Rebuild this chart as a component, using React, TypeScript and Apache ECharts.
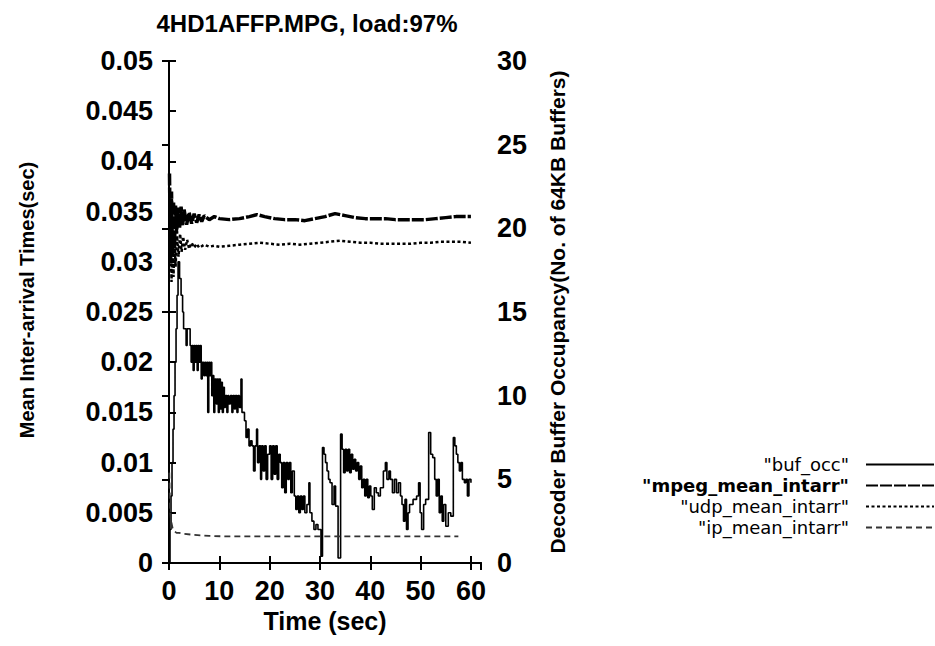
import React, { useEffect, useRef } from "react";
import * as echarts from "echarts";

const TITLE = "4HD1AFFP.MPG, load:97%";
const X_NAME = "Time (sec)";
const Y_LEFT_NAME = "Mean Inter-arrival Times(sec)";
const Y_RIGHT_NAME = "Decoder Buffer Occupancy(No. of 64KB Buffers)";
const SERIES_NAMES = ['"buf_occ"', '"mpeg_mean_intarr"', '"udp_mean_intarr"', '"ip_mean_intarr"'];

// [time (sec), buffers]
const bufOcc: number[][] = [
  [0, 0], [0.2, 2], [0.4, 4], [0.6, 6], [0.8, 8], [1.0, 10], [1.2, 12], [1.4, 14], [1.6, 16], [1.8, 18],
  [2.1, 17], [2.4, 16], [2.7, 15], [2.9, 14], [3.4, 13], [3.6, 14], [4.2, 13], [4.4, 12], [4.6, 13], [4.8, 11.5],
  [5.0, 13], [5.2, 12], [5.4, 13], [5.6, 11.5], [5.8, 13], [6.0, 12], [6.2, 13], [6.4, 11], [6.6, 12], [6.9, 11.2],
  [7.1, 12], [7.3, 11.2], [7.5, 12], [7.7, 9], [7.9, 12], [8.1, 11.2], [8.3, 12], [8.5, 10], [8.7, 11.2], [8.9, 9],
  [9.1, 11], [9.4, 9.5], [9.6, 11], [9.8, 9], [10.0, 11], [10.2, 9.2], [10.4, 10.8], [10.6, 9], [10.8, 10.5], [11.0, 9.3],
  [11.2, 10], [11.5, 9], [11.7, 10], [11.9, 9.5], [12.2, 10], [12.5, 9], [12.7, 10], [13.0, 9.2], [13.2, 10], [13.5, 9],
  [13.7, 10], [14.0, 9.3], [14.3, 11], [14.5, 9], [15.0, 8.5], [15.3, 7.5], [15.6, 8], [15.9, 7], [16.2, 7.3], [16.5, 7],
  [16.8, 5.5], [17.1, 7], [17.4, 8], [17.6, 6], [17.9, 7], [18.2, 5], [18.4, 7], [18.7, 5.5], [19.0, 7], [19.3, 5],
  [19.6, 6.5], [20.0, 7], [20.3, 5], [20.6, 7], [20.9, 5.3], [21.2, 7], [21.5, 5], [21.8, 6.5], [22.1, 6], [22.4, 4.5],
  [22.7, 6], [23.0, 4.2], [23.3, 6], [23.6, 5], [23.9, 6], [24.2, 4.2], [24.5, 5.5], [24.9, 4], [25.2, 3.2], [25.5, 4],
  [25.8, 3], [26.1, 4], [26.4, 3.2], [26.7, 4], [27.0, 3], [27.4, 3.5], [27.8, 4.8], [28.0, 3], [28.4, 2.5], [28.8, 2],
  [29.2, 2.3], [29.6, 2], [30.2, 0.4], [30.5, 6.9], [30.8, 6.5], [31.1, 6], [31.4, 5.5], [31.7, 5], [32.0, 4.8], [32.4, 3.5],
  [32.8, 4.6], [33.1, 3.4], [33.6, 0.3], [34.1, 7.7], [34.4, 6.8], [34.7, 5.4], [35.0, 6.8], [35.3, 5.5], [35.6, 6.8], [35.9, 5.4],
  [36.2, 6.5], [36.5, 5.6], [36.8, 6.2], [37.1, 5.5], [37.4, 6], [37.7, 5], [38.0, 5.8], [38.3, 4.5], [38.6, 5], [38.9, 4],
  [39.2, 5], [39.5, 3.9], [39.8, 4.6], [40.1, 4], [40.4, 3.2], [40.8, 4.5], [41.2, 4.2], [41.6, 4], [42.0, 4.5], [42.6, 5.5],
  [43.0, 6], [43.3, 5], [43.7, 5.5], [44.0, 5], [44.4, 4.2], [44.8, 5], [45.2, 4.2], [45.6, 4.8], [46.0, 4], [46.3, 3.5],
  [46.6, 2.5], [46.9, 3.8], [47.2, 2], [47.5, 3], [47.8, 3.5], [48.5, 3.8], [49.2, 4], [49.6, 4.8], [49.9, 3], [50.2, 2],
  [50.6, 3.5], [51.0, 3.8], [51.6, 7.8], [52.0, 6.5], [52.4, 6.3], [52.8, 5], [53.1, 4], [53.4, 5], [53.7, 3], [54.0, 4],
  [54.3, 2.5], [54.6, 3.5], [55.0, 2.2], [55.5, 3], [56.0, 2.8], [56.5, 7.5], [56.8, 7], [57.1, 6.5], [57.4, 6], [57.7, 5.5],
  [58.0, 6], [58.3, 5], [58.7, 4.8], [59.0, 5], [59.3, 4], [59.6, 5], [60.0, 4.8],
];

// [time (sec), seconds]
const mpegIntarr: number[][] = [
  [0.1, 0.0388], [0.3, 0.030], [0.5, 0.037], [0.7, 0.0305], [0.9, 0.036], [1.1, 0.0318], [1.3, 0.0356], [1.5, 0.0328],
  [1.8, 0.0354], [2.1, 0.0334], [2.4, 0.0355], [2.7, 0.0336], [3.0, 0.0352], [3.5, 0.0337], [4.0, 0.0349], [4.5, 0.0338],
  [5.0, 0.0348], [5.5, 0.0339], [6.0, 0.0347], [6.5, 0.034], [7.0, 0.0346], [8.0, 0.0342], [9.0, 0.0345], [10, 0.0343],
  [12, 0.0342], [14, 0.0343], [16, 0.0345], [17.5, 0.0347], [19, 0.0345], [21, 0.0343], [23, 0.0342], [25, 0.0342],
  [27, 0.0341], [29, 0.0343], [31, 0.0345], [33, 0.0348], [35, 0.0346], [37, 0.0344], [39, 0.0343], [41, 0.0343],
  [43, 0.0343], [45, 0.0342], [47, 0.0342], [49, 0.0342], [51, 0.0342], [53, 0.0343], [55, 0.0344], [57, 0.0345],
  [59, 0.0345], [60, 0.0345],
];

const udpIntarr: number[][] = [
  [0.1, 0.029], [0.3, 0.036], [0.5, 0.028], [0.7, 0.034], [0.9, 0.0285], [1.1, 0.033], [1.3, 0.0295], [1.6, 0.0326],
  [1.9, 0.0305], [2.2, 0.0328], [2.5, 0.031], [2.8, 0.0325], [3.2, 0.0312], [3.6, 0.0322], [4.0, 0.0313], [4.5, 0.0319],
  [5.0, 0.0314], [5.5, 0.0318], [6, 0.0314], [7, 0.0317], [8, 0.0315], [9, 0.0316], [10, 0.0315], [12, 0.0316],
  [14, 0.0317], [16, 0.0318], [18, 0.0319], [20, 0.0318], [22, 0.0317], [24, 0.0318], [26, 0.0317], [28, 0.0318],
  [30, 0.0319], [32, 0.032], [34, 0.0321], [36, 0.032], [38, 0.0319], [40, 0.0319], [42, 0.0318], [44, 0.0318],
  [46, 0.0318], [48, 0.0318], [50, 0.0319], [52, 0.0319], [54, 0.032], [56, 0.032], [58, 0.032], [60, 0.0319],
];

const ipIntarr: number[][] = [
  [0.05, 0.009], [0.2, 0.0055], [0.4, 0.0042], [0.7, 0.0035], [1.0, 0.0032], [1.5, 0.0030], [2, 0.0030], [3, 0.0029],
  [5, 0.0028], [8, 0.0027], [11, 0.00265], [15, 0.00265], [20, 0.00265], [25, 0.00265], [30, 0.00265], [35, 0.00265],
  [40, 0.00265], [45, 0.00265], [50, 0.00265], [55, 0.00265], [57.5, 0.00265],
];

const FONT = "'Liberation Sans', Arial, Helvetica, sans-serif";

export default function App() {
  const ref = useRef<HTMLDivElement>(null);
  useEffect(() => {
    if (!ref.current) return;
    const chart = echarts.init(ref.current, null, { renderer: "svg" });
    const axisLine = { show: true, lineStyle: { color: "#000", width: 2 } };
    const axisTick = { show: true, inside: true, length: 7, lineStyle: { color: "#000", width: 2 } };
    const tickLabel = { color: "#000", fontFamily: FONT, fontWeight: "bold" as const, fontSize: 27 };
    chart.setOption({
      animation: false,
      backgroundColor: "#fff",
      title: {
        text: TITLE,
        left: 302,
        top: 6,
        textAlign: "center",
        textStyle: { color: "#000", fontFamily: FONT, fontWeight: "bold", fontSize: 24 },
      },
      grid: { left: 169, right: 454, top: 61, bottom: 83, containLabel: false },
      legend: {
        orient: "vertical",
        right: 0,
        top: 454,
        padding: 0,
        align: "right",
        itemWidth: 68,
        itemHeight: 14,
        itemGap: 0,
        itemStyle: { opacity: 0, borderWidth: 0 },
        textStyle: { color: "#000", fontFamily: "'DejaVu Sans', sans-serif", fontSize: 18, lineHeight: 21, padding: [0, 12, 0, 0] },
        data: [
          { name: SERIES_NAMES[0] },
          { name: SERIES_NAMES[1], textStyle: { fontWeight: "bold" } },
          { name: SERIES_NAMES[2] },
          { name: SERIES_NAMES[3] },
        ],
      },
      xAxis: [
        {
          type: "value",
          min: 0,
          max: 62,
          interval: 10,
          position: "bottom",
          name: X_NAME,
          nameLocation: "middle",
          nameGap: 44,
          nameTextStyle: { color: "#000", fontFamily: FONT, fontWeight: "bold", fontSize: 25 },
          axisLine,
          axisTick,
          splitLine: { show: false },
          axisLabel: { ...tickLabel, margin: 14, showMaxLabel: false },
        },
        {
          type: "value",
          min: 0,
          max: 62,
          interval: 10,
          position: "top",
          axisLine,
          axisTick,
          splitLine: { show: false },
          axisLabel: { show: false },
        },
      ],
      yAxis: [
        {
          type: "value",
          min: 0,
          max: 0.05,
          interval: 0.005,
          position: "left",
          name: Y_LEFT_NAME,
          nameLocation: "middle",
          nameRotate: 90,
          nameGap: 132,
          nameTextStyle: { color: "#000", fontFamily: FONT, fontWeight: "bold", fontSize: 20, padding: [0, 0, 0, 24] },
          axisLine,
          axisTick,
          splitLine: { show: false },
          axisLabel: { ...tickLabel, margin: 16, formatter: (v: number) => String(+v.toFixed(3)) },
        },
        {
          type: "value",
          min: 0,
          max: 30,
          interval: 5,
          position: "right",
          name: Y_RIGHT_NAME,
          nameLocation: "middle",
          nameRotate: 90,
          nameGap: 66,
          nameTextStyle: { color: "#000", fontFamily: FONT, fontWeight: "bold", fontSize: 21 },
          axisLine,
          axisTick,
          splitLine: { show: false },
          axisLabel: { ...tickLabel, margin: 16 },
        },
      ],
      series: [
        {
          name: SERIES_NAMES[0],
          type: "line",
          yAxisIndex: 1,
          step: "end",
          symbol: "none",
          data: bufOcc,
          lineStyle: { color: "#000", width: 1.6, type: "solid" },
          itemStyle: { color: "#000" },
        },
        {
          name: SERIES_NAMES[1],
          type: "line",
          yAxisIndex: 0,
          symbol: "none",
          data: mpegIntarr,
          lineStyle: { color: "#000", width: 3.5, type: [12, 2] },
          itemStyle: { color: "#000" },
        },
        {
          name: SERIES_NAMES[2],
          type: "line",
          yAxisIndex: 0,
          symbol: "none",
          data: udpIntarr,
          lineStyle: { color: "#000", width: 2.5, type: [3, 2.5] },
          itemStyle: { color: "#000" },
        },
        {
          name: SERIES_NAMES[3],
          type: "line",
          yAxisIndex: 0,
          symbol: "none",
          data: ipIntarr,
          lineStyle: { color: "#333", width: 1.8, type: [6, 4] },
          itemStyle: { color: "#333" },
        },
      ],
    });
    return () => chart.dispose();
  }, []);
  return <div ref={ref} style={{ position: "fixed", left: 0, top: 0, width: 935, height: 646 }} />;
}
